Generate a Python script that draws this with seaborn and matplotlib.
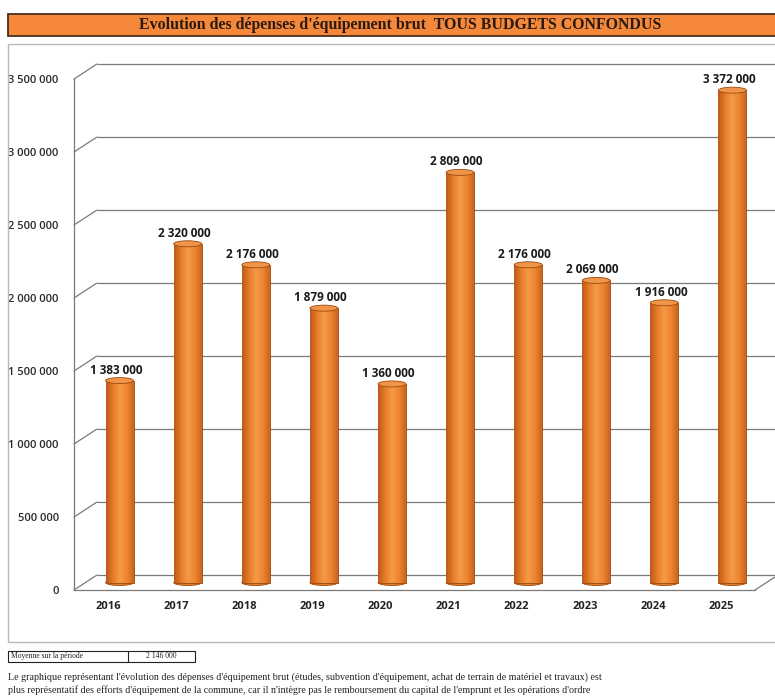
import numpy as np
import pandas as pd
import seaborn as sns
import matplotlib.pyplot as plt
from matplotlib.transforms import ScaledTranslation
from matplotlib.patches import Rectangle, Ellipse
from matplotlib.colors import LinearSegmentedColormap

# data
years = ['2016', '2017', '2018', '2019', '2020', '2021', '2022', '2023', '2024', '2025']
depenses = [1383000, 2320000, 2176000, 1879000, 1360000, 2809000, 2176000, 2069000, 1916000, 3372000]
y_ticks = [0, 500000, 1000000, 1500000, 2000000, 2500000, 3000000, 3500000]

title = "Evolution des dépenses d'équipement brut  TOUS BUDGETS CONFONDUS"
note_1 = ("Le graphique représentant l'évolution des dépenses d'équipement brut (études, subvention d'équipement, "
          "achat de terrain de matériel et travaux) est")
note_2 = ("plus représentatif des efforts d'équipement de la commune, car il n'intègre pas le remboursement "
          "du capital de l'emprunt et les opérations d'ordre")

df = pd.DataFrame({'annee': years, 'montant': depenses})


def fmt(v):
    return f"{v:,.0f}".replace(",", " ")


sns.set_style('white')
plt.rcParams['font.family'] = ['Open Sans', 'DejaVu Sans']

W, H = 775, 699
fig = plt.figure(figsize=(W / 100, H / 100), dpi=100)

# orange title banner and chart frame
fig.patches.append(Rectangle((8 / W, 1 - 36 / H), 1, 22 / H, transform=fig.transFigure,
                             facecolor='#F5883A', edgecolor='#4a3020', lw=1.3))
fig.text(400 / W, 1 - 25 / H, title, ha='center', va='center', fontsize=11.4, fontweight='bold',
         family='Liberation Serif', color='#2a1a10')
fig.patches.append(Rectangle((8 / W, 1 - 642 / H), 1, (642 - 44) / H, transform=fig.transFigure,
                             facecolor='none', edgecolor='#b8b8b8', lw=1))

# front plane of the 3d box
ax = fig.add_axes([74 / W, 1 - 590 / H, (755 - 74) / W, (590 - 79) / H])
ax.set_facecolor('none')

sns.barplot(data=df, x='annee', y='montant', color='#EE8530', width=0.41, ax=ax, zorder=3)
ax.set_xlim(-0.5, 9.5)
ax.set_ylim(0, 3500000)

dpi = fig.dpi
back = ax.transData + ScaledTranslation(23 / dpi, 15 / dpi, fig.dpi_scale_trans)
mid = ax.transData + ScaledTranslation(11.5 / dpi, 7.5 / dpi, fig.dpi_scale_trans)

# back wall grid and depth lines
ax.hlines(y_ticks, -0.5, 9.9, transform=back, color='#7a7a7a', lw=0.9, clip_on=False, zorder=1)
for t in y_ticks:
    ax.annotate('', xy=(-0.5, t), xytext=(23, 15), textcoords='offset pixels',
                arrowprops=dict(arrowstyle='-', color='#7a7a7a', lw=0.9, shrinkA=0, shrinkB=0),
                annotation_clip=False)
ax.annotate('', xy=(9.5, 0), xytext=(23, 15), textcoords='offset pixels',
            arrowprops=dict(arrowstyle='-', color='#7a7a7a', lw=0.9, shrinkA=0, shrinkB=0),
            annotation_clip=False)

# cylinders
shade = LinearSegmentedColormap.from_list('cyl', ['#BE5A1A', '#E57C27', '#F59A48', '#EE8530', '#CC661D'])
grad = np.linspace(0, 1, 64).reshape(1, -1)
cap_h = 6 * 3500000 / (590 - 79)
for p, v in zip(ax.patches, depenses):
    p.set_transform(mid)
    p.set_edgecolor('#9a4a10')
    p.set_linewidth(0.6)
    x0, w = p.get_x(), p.get_width()
    im = ax.imshow(grad, cmap=shade, aspect='auto', extent=(x0, x0 + w, 0, v),
                   transform=mid, zorder=3.5, clip_on=True)
    im.set_clip_path(p)
    ax.add_patch(Ellipse((x0 + w / 2, 0), w, cap_h, transform=mid, facecolor='#E47C28',
                         edgecolor='#9a4a10', lw=0.6, zorder=2.9))
    ax.add_patch(Ellipse((x0 + w / 2, v), w, cap_h, transform=mid, facecolor='#F09548',
                         edgecolor='#9a4a10', lw=0.6, zorder=4, clip_on=False))
    ax.annotate(fmt(v), xy=(x0 + w / 2, v), xytext=(8, 18), textcoords='offset pixels',
                ha='center', va='center', fontsize=8.5, fontweight='bold', color='#1a1a1a',
                annotation_clip=False)

ax.set_xlim(-0.5, 9.5)
ax.set_ylim(0, 3500000)

for s in ['top', 'right']:
    ax.spines[s].set_visible(False)
for s in ['left', 'bottom']:
    ax.spines[s].set_color('#7a7a7a')
    ax.spines[s].set_linewidth(0.9)

ax.set_yticks(y_ticks)
ax.set_yticklabels([fmt(t) for t in y_ticks])
ax.set_xticks(np.arange(-0.5, 10, 1), minor=True)
ax.tick_params(axis='y', length=3, pad=8, color='#7a7a7a', labelsize=8, labelcolor='#2a2a2a')
ax.tick_params(axis='x', which='major', length=0, pad=8, labelsize=8, labelcolor='#222222')
ax.tick_params(axis='x', which='minor', length=3, color='#7a7a7a')
for lab in ax.get_yticklabels():
    lab.set_fontweight('semibold')
for lab in ax.get_xticklabels():
    lab.set_fontweight('bold')
ax.set_xlabel('')
ax.set_ylabel('')

# average box under the chart
moyenne = np.mean(depenses)
fig.patches.append(Rectangle((8 / W, 1 - 662 / H), 187 / W, 11 / H, transform=fig.transFigure,
                             facecolor='none', edgecolor='#222222', lw=0.8))
fig.lines.append(plt.Line2D([128 / W, 128 / W], [1 - 662 / H, 1 - 651 / H], transform=fig.transFigure,
                            color='#222222', lw=0.8))
fig.text(11 / W, 1 - 656.5 / H, 'Moyenne sur la période', fontsize=5.5, family='Liberation Serif',
         va='center', color='#222222')
fig.text(161 / W, 1 - 656.5 / H, fmt(round(moyenne, -3)), fontsize=5.5, family='Liberation Serif',
         va='center', ha='center', color='#222222')

fig.text(8 / W, 1 - 677 / H, note_1, fontsize=7.2, family='Liberation Serif', va='center', color='#222222')
fig.text(8 / W, 1 - 690 / H, note_2, fontsize=7.2, family='Liberation Serif', va='center', color='#222222')

plt.savefig('out.png', dpi=100)
